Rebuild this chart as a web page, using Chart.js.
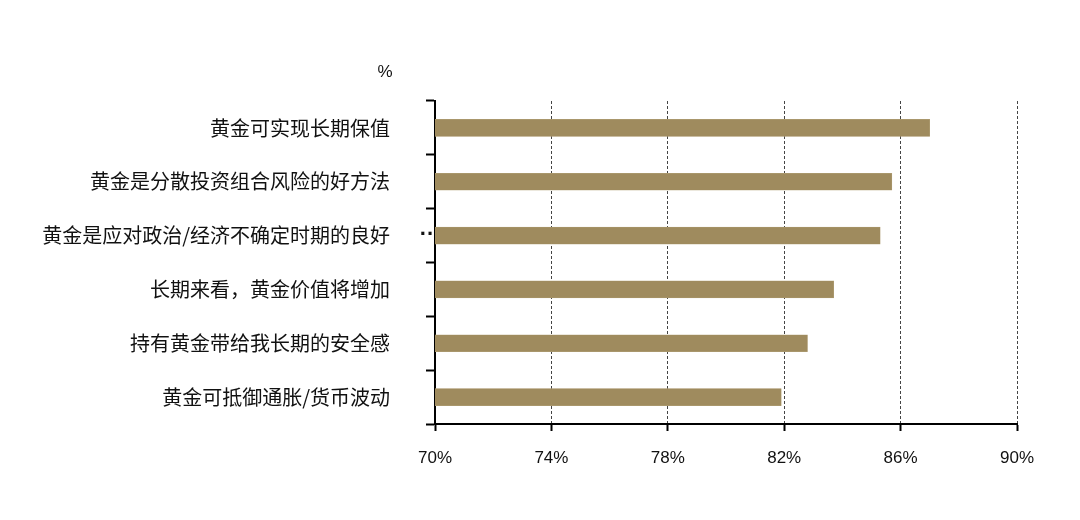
<!DOCTYPE html>
<html>
<head>
<meta charset="utf-8">
<script src="https://cdn.jsdelivr.net/npm/chart.js@4/dist/chart.umd.min.js"></script>
<style>
    html, body { margin: 0; padding: 0; background: #fff; }
    #wrap { width: 1080px; height: 520px; }
</style>
</head>
<body>
<div id="wrap"><canvas id="chart"></canvas></div>
<script>
// 调查选项
const reasons = [
    "黄金可实现长期保值",
    "黄金是分散投资组合风险的好方法",
    "黄金是应对政治/经济不确定时期的良好",
    "长期来看，黄金价值将增加",
    "持有黄金带给我长期的安全感",
    "黄金可抵御通胀/货币波动"
];
// 认同比例 (%)
const shares = [87.0, 85.7, 85.3, 83.7, 82.8, 81.9];
// x轴刻度
const xMin = 70;
const xMax = 90;
const xStep = 4;

// 画单位“%”和被截断标签的“··”
const extraText = {
    id: 'extraText',
    afterDraw(chart) {
        const ctx = chart.ctx;
        const area = chart.chartArea;
        const y = chart.scales.y;
        ctx.save();
        ctx.fillStyle = '#111';
        ctx.font = '17px "Liberation Sans", Arial, sans-serif';
        ctx.textAlign = 'center';
        ctx.textBaseline = 'middle';
        ctx.fillText('%', area.left - 50, area.top - 29);
        ctx.font = 'bold 22px "Liberation Sans", Arial, sans-serif';
        ctx.fillText('··', area.left - 8, y.getPixelForValue(2) - 1);
        ctx.restore();
    }
};

new Chart(document.getElementById('chart'), {
    type: 'bar',
    data: {
        labels: reasons,
        datasets: [{
            data: shares,
            backgroundColor: '#9f8b5e',
            borderColor: '#b3a27a',
            borderWidth: 0.5,
            barThickness: 17
        }]
    },
    options: {
        indexAxis: 'y',
        responsive: true,
        maintainAspectRatio: false,
        animation: false,
        layout: { padding: { top: 101, right: 63, bottom: 0, left: 0 } },
        plugins: {
            legend: { display: false },
            tooltip: { enabled: false }
        },
        scales: {
            x: {
                min: xMin,
                max: xMax,
                afterFit(scale) { scale.height = 96; },
                ticks: {
                    stepSize: xStep,
                    padding: 17,
                    color: '#111',
                    font: { family: '"Liberation Sans", Arial, sans-serif', size: 17 },
                    callback: v => v + '%'
                },
                grid: {
                    color: '#444',
                    lineWidth: 1,
                    tickColor: '#000',
                    tickLength: 7,
                    tickWidth: 2
                },
                border: { display: true, color: '#000', width: 2, dash: [3, 2] }
            },
            y: {
                offset: true,
                afterFit(scale) { scale.width = 435; },
                ticks: {
                    autoSkip: false,
                    padding: 36,
                    color: '#111',
                    font: { family: '"Noto Sans CJK SC", sans-serif', size: 20 }
                },
                grid: {
                    offset: true,
                    drawOnChartArea: false,
                    tickColor: '#000',
                    tickLength: 9,
                    tickWidth: 2
                },
                border: { display: true, color: '#000', width: 2 }
            }
        }
    },
    plugins: [extraText]
});
</script>
</body>
</html>
